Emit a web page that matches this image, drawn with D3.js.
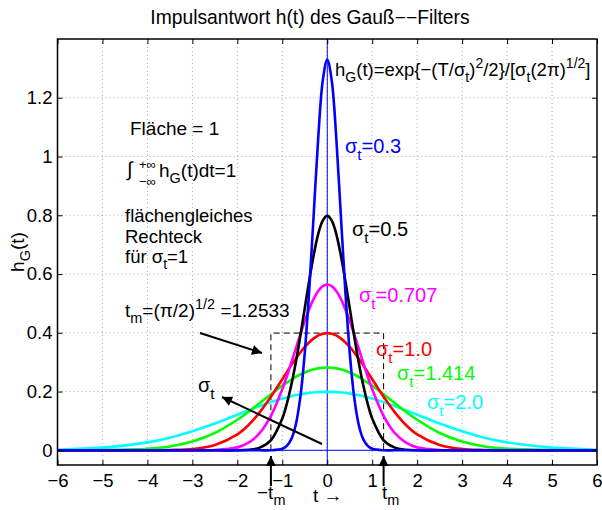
<!DOCTYPE html>
<html>
<head>
<meta charset="utf-8">
<script src="https://cdn.jsdelivr.net/npm/d3@7"></script>
<style>
  body { margin: 0; background: #fff; }
  text { font-family: "Liberation Sans", Arial, sans-serif; }
</style>
</head>
<body>
<div id="container"></div>
<script>
// time samples (shared by all curves)
const tValues = [-6, -5, -4, -3.5, -3, -2.5, -2, -1.75, -1.5, -1.25, -1, -0.9, -0.8, -0.7, -0.6, -0.5, -0.4, -0.3, -0.2, -0.1,
                 0, 0.1, 0.2, 0.3, 0.4, 0.5, 0.6, 0.7, 0.8, 0.9, 1, 1.25, 1.5, 1.75, 2, 2.5, 3, 3.5, 4, 5, 6];

// h_G(t) read per curve
const h03  = [0, 0, 0, 0, 0, 0, 0, 0, 0, 0, 0.005, 0.015, 0.038, 0.087, 0.180, 0.332, 0.547, 0.807, 1.065, 1.258,
              1.330, 1.258, 1.065, 0.807, 0.547, 0.332, 0.180, 0.087, 0.038, 0.015, 0.005, 0, 0, 0, 0, 0, 0, 0, 0, 0, 0];
const h05  = [0, 0, 0, 0, 0, 0, 0, 0.002, 0.009, 0.035, 0.108, 0.158, 0.222, 0.299, 0.388, 0.484, 0.579, 0.666, 0.737, 0.782,
              0.798, 0.782, 0.737, 0.666, 0.579, 0.484, 0.388, 0.299, 0.222, 0.158, 0.108, 0.035, 0.009, 0.002, 0, 0, 0, 0, 0, 0, 0];
const h0707 = [0, 0, 0, 0, 0, 0.001, 0.010, 0.026, 0.059, 0.118, 0.208, 0.251, 0.298, 0.346, 0.394, 0.440, 0.481, 0.516, 0.542, 0.559,
               0.564, 0.559, 0.542, 0.516, 0.481, 0.440, 0.394, 0.346, 0.298, 0.251, 0.208, 0.118, 0.059, 0.026, 0.010, 0.001, 0, 0, 0, 0, 0];
const h10  = [0, 0, 0, 0.001, 0.004, 0.018, 0.054, 0.086, 0.130, 0.183, 0.242, 0.266, 0.290, 0.312, 0.333, 0.352, 0.368, 0.381, 0.391, 0.397,
              0.399, 0.397, 0.391, 0.381, 0.368, 0.352, 0.333, 0.312, 0.290, 0.266, 0.242, 0.183, 0.130, 0.086, 0.054, 0.018, 0.004, 0.001, 0, 0, 0];
const h1414 = [0, 0.001, 0.005, 0.013, 0.030, 0.059, 0.104, 0.131, 0.161, 0.191, 0.220, 0.230, 0.240, 0.250, 0.258, 0.265, 0.271, 0.276, 0.279, 0.281,
               0.282, 0.281, 0.279, 0.276, 0.271, 0.265, 0.258, 0.250, 0.240, 0.230, 0.220, 0.191, 0.161, 0.131, 0.104, 0.059, 0.030, 0.013, 0.005, 0.001, 0];
const h20  = [0.002, 0.009, 0.027, 0.043, 0.065, 0.091, 0.121, 0.136, 0.151, 0.164, 0.176, 0.180, 0.184, 0.188, 0.191, 0.193, 0.196, 0.197, 0.198, 0.199,
              0.199, 0.199, 0.198, 0.197, 0.196, 0.193, 0.191, 0.188, 0.184, 0.180, 0.176, 0.164, 0.151, 0.136, 0.121, 0.091, 0.065, 0.043, 0.027, 0.009, 0.002];

const series = [
  { values: h03,   color: '#0000ff', label: '0.3' },
  { values: h05,   color: '#000000', label: '0.5' },
  { values: h0707, color: '#ff00ff', label: '0.707' },
  { values: h10,   color: '#ff0000', label: '1.0' },
  { values: h1414, color: '#00ff00', label: '1.414' },
  { values: h20,   color: '#00ffff', label: '2.0' }
];

const xTicks = [-6, -5, -4, -3, -2, -1, 0, 1, 2, 3, 4, 5, 6];
const yTicks = [0, 0.2, 0.4, 0.6, 0.8, 1, 1.2];

// equal-area rectangle for sigma = 1
const tm = 1.2533;
const rectHeight = 0.399;

// chart dimensions
const w = 602;
const h = 510;
const plotLeft = 57.5, plotRight = 597, plotTop = 39, plotBottom = 465;

const xScale = d3.scaleLinear().domain([-6, 6]).range([plotLeft, plotRight]);
const yScale = d3.scaleLinear().domain([-0.05, 1.4]).range([plotBottom, plotTop]);

const svg = d3.select('#container')
  .append('svg')
  .attr('width', w)
  .attr('height', h);

const defs = svg.append('defs');
defs.append('marker')
  .attr('id', 'arrow')
  .attr('viewBox', '0 0 10 10')
  .attr('refX', 10).attr('refY', 5)
  .attr('markerWidth', 14).attr('markerHeight', 10)
  .attr('markerUnits', 'userSpaceOnUse')
  .attr('orient', 'auto')
  .append('path')
  .attr('d', 'M0,0 L10,5 L0,10 z')
  .attr('fill', '#000');

// grid
const grid = svg.append('g').attr('stroke', '#aaa').attr('stroke-width', 1).attr('stroke-dasharray', '1,3');
grid.selectAll('.gx').data(xTicks.slice(1, -1)).join('line')
  .attr('x1', d => xScale(d)).attr('x2', d => xScale(d))
  .attr('y1', plotTop).attr('y2', plotBottom);
grid.selectAll('.gy').data(yTicks).join('line')
  .attr('x1', plotLeft).attr('x2', plotRight)
  .attr('y1', d => yScale(d)).attr('y2', d => yScale(d));

// thin blue zero lines
svg.append('line')
  .attr('x1', xScale(0)).attr('x2', xScale(0))
  .attr('y1', plotTop).attr('y2', plotBottom)
  .attr('stroke', '#0000ff').attr('stroke-width', 1);
svg.append('line')
  .attr('x1', plotLeft).attr('x2', plotRight)
  .attr('y1', yScale(0)).attr('y2', yScale(0))
  .attr('stroke', '#0000ff').attr('stroke-width', 1);

// dashed rectangle
svg.append('path')
  .attr('d', `M${xScale(-tm)},${yScale(0)} V${yScale(rectHeight)} H${xScale(tm)} V${yScale(0)}`)
  .attr('fill', 'none')
  .attr('stroke', '#000').attr('stroke-width', 1)
  .attr('stroke-dasharray', '6,4');

// curves (widest first so the narrow ones stay on top)
const line = d3.line()
  .x((d, i) => xScale(tValues[i]))
  .y(d => yScale(d))
  .curve(d3.curveCatmullRom);

svg.append('g').selectAll('path')
  .data(series.slice().reverse())
  .join('path')
  .attr('d', d => line(d.values))
  .attr('fill', 'none')
  .attr('stroke', d => d.color)
  .attr('stroke-width', 2.6);

// axes
const xAxis = d3.axisBottom(xScale).tickValues(xTicks).tickSize(-5).tickPadding(9)
  .tickFormat(d => d < 0 ? '\u2212' + Math.abs(d) : d);
const yAxis = d3.axisLeft(yScale).tickValues(yTicks).tickSize(-5).tickPadding(5)
  .tickFormat(d => d);

svg.append('g').attr('transform', `translate(0, ${plotBottom})`).call(xAxis);
svg.append('g').attr('transform', `translate(${plotLeft}, 0)`).call(yAxis);
svg.append('g').attr('transform', `translate(0, ${plotTop})`)
  .call(d3.axisTop(xScale).tickValues(xTicks).tickSize(-5).tickFormat(''));
svg.append('g').attr('transform', `translate(${plotRight}, 0)`)
  .call(d3.axisRight(yScale).tickValues(yTicks).tickSize(-5).tickFormat(''));

svg.selectAll('.domain').remove();
svg.selectAll('.tick line').attr('stroke', '#000').attr('stroke-width', 1);
svg.selectAll('.tick text').attr('font-size', 18.5).attr('fill', '#000')
  .style('font-family', '"Liberation Sans", Arial, sans-serif');

svg.append('rect')
  .attr('x', plotLeft).attr('y', plotTop)
  .attr('width', plotRight - plotLeft).attr('height', plotBottom - plotTop)
  .attr('fill', 'none').attr('stroke', '#000').attr('stroke-width', 1.5);

// helper for text with sub/superscripts: parts = [[text, 'n'|'sub'|'sup'], ...]
function richText(x, y, parts, opts = {}) {
  const size = opts.size || 19;
  const t = svg.append('text')
    .attr('x', x).attr('y', y)
    .attr('font-size', size)
    .attr('fill', opts.color || '#000');
  if (opts.transform) t.attr('transform', opts.transform);
  if (opts.anchor) t.attr('text-anchor', opts.anchor);
  let shift = 0;
  parts.forEach(([s, kind]) => {
    const target = kind === 'sub' ? size * 0.33 : kind === 'sup' ? -size * 0.42 : 0;
    t.append('tspan')
      .attr('dy', target - shift)
      .attr('font-size', kind === 'n' ? size : size * 0.76)
      .text(s);
    shift = target;
  });
  return t;
}

// title
svg.append('text')
  .attr('x', 310).attr('y', 24)
  .attr('text-anchor', 'middle')
  .attr('font-size', 19.3)
  .text('Impulsantwort h(t) des Gauß\u2212\u2212Filters');

// y label
richText(0, 0, [['h', 'n'], ['G', 'sub'], ['(t)', 'n']],
  { size: 19, anchor: 'middle', transform: 'translate(24, 252) rotate(-90)' });

// formula
richText(335, 76, [['h', 'n'], ['G', 'sub'], ['(t)=exp{\u2212(T/\u03c3', 'n'], ['t', 'sub'], [')', 'n'],
  ['2', 'sup'], ['/2}/[\u03c3', 'n'], ['t', 'sub'], ['(2\u03c0)', 'n'], ['1/2', 'sup'], [']', 'n']], { size: 18.5 });

// left annotations
richText(130, 135, [['Fläche = 1', 'n']]);
richText(127, 176, [['\u222b', 'n']], { size: 20 });
richText(139, 169, [['+\u221e', 'n']], { size: 13 });
richText(139, 186, [['\u2212\u221e', 'n']], { size: 13 });
richText(159, 177, [['h', 'n'], ['G', 'sub'], ['(t)dt=1', 'n']]);
richText(125, 222, [['flächengleiches', 'n']], { size: 18.5 });
richText(125, 243, [['Rechteck', 'n']], { size: 18.5 });
richText(125, 263, [['für \u03c3', 'n'], ['t', 'sub'], ['=1', 'n']], { size: 18.5 });
richText(125, 317, [['t', 'n'], ['m', 'sub'], ['=(\u03c0/2)', 'n'], ['1/2', 'sup'], [' =1.2533', 'n']]);

// sigma labels
const labelPos = [[345, 153], [352, 236], [359, 302], [376, 356], [397, 380], [427, 409]];
series.forEach((s, i) => {
  richText(labelPos[i][0], labelPos[i][1], [['\u03c3', 'n'], ['t', 'sub'], ['=' + s.label, 'n']],
    { size: 20, color: s.color });
});

// arrows
function arrow(x1, y1, x2, y2) {
  svg.append('line')
    .attr('x1', x1).attr('y1', y1).attr('x2', x2).attr('y2', y2)
    .attr('stroke', '#000').attr('stroke-width', 2)
    .attr('marker-end', 'url(#arrow)');
}
arrow(200, 333, 262, 353);
arrow(322, 444, 222, 397);
arrow(xScale(-tm), 486, xScale(-tm), 456);
arrow(xScale(tm), 486, xScale(tm), 456);

richText(198, 392, [['\u03c3', 'n'], ['t', 'sub']], { size: 20 });
richText(257, 499, [['\u2212t', 'n'], ['m', 'sub']], { size: 19 });
richText(382, 499, [['t', 'n'], ['m', 'sub']], { size: 19 });
svg.append('text')
  .attr('x', 313).attr('y', 502)
  .attr('font-size', 19)
  .text('t \u2192');
</script>
</body>
</html>
